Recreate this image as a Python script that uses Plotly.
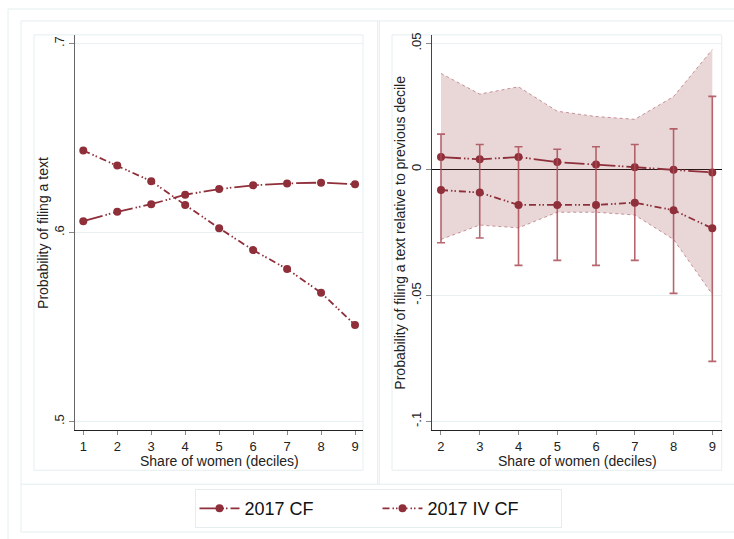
import plotly.graph_objects as go

# ---- data ----
deciles_left = [1, 2, 3, 4, 5, 6, 7, 8, 9]
cf_left = [0.606, 0.611, 0.615, 0.620, 0.623, 0.625, 0.626, 0.6264, 0.6255]
ivcf_left = [0.6434, 0.6355, 0.6272, 0.6146, 0.6023, 0.5907, 0.5807, 0.5682, 0.5511]

deciles_right = [2, 3, 4, 5, 6, 7, 8, 9]
cf_right = [0.0049, 0.0040, 0.0049, 0.0029, 0.0019, 0.0009, -0.0001, -0.0012]
cf_ci_upper = [0.0381, 0.0299, 0.0328, 0.0231, 0.0210, 0.0199, 0.0289, 0.0476]
cf_ci_lower = [-0.0278, -0.0221, -0.0232, -0.0170, -0.0170, -0.0181, -0.0278, -0.0496]
ivcf_right = [-0.0082, -0.0092, -0.0141, -0.0141, -0.0141, -0.0132, -0.0162, -0.0234]
ivcf_ci_upper = [0.0140, 0.0099, 0.0090, 0.0080, 0.0090, 0.0099, 0.0161, 0.0290]
ivcf_ci_lower = [-0.0291, -0.0272, -0.0381, -0.0361, -0.0381, -0.0361, -0.0492, -0.0762]

left_yticks = [0.5, 0.6, 0.7]
left_yticktext = [".5", ".6", ".7"]
right_yticks = [-0.1, -0.05, 0, 0.05]
right_yticktext = ["-.1", "-.05", "0", ".05"]

series_names = ["2017 CF", "2017 IV CF"]

# ---- styles ----
W, H = 734, 539
MAROON = "#8f2f3a"
DASH_CF = "20px,3px,1.5px,2px,1.5px,3px"
DASH_IV = "7px,3px,1.5px,2px,1.5px,3px"
FRAME = "#e4eeef"
GRID = "#e8f0f1"
FONT = "Liberation Sans, Arial, sans-serif"

def px(x):
    return x / W

def py(y):
    return 1 - y / H

fig = go.Figure()

# Left panel
fig.add_trace(go.Scatter(
    x=deciles_left, y=cf_left, mode="lines+markers", name=series_names[0],
    line=dict(color=MAROON, width=1.8, dash=DASH_CF),
    marker=dict(color=MAROON, size=8), xaxis="x", yaxis="y", legendgroup="cf"))
fig.add_trace(go.Scatter(
    x=deciles_left, y=ivcf_left, mode="lines+markers", name=series_names[1],
    line=dict(color=MAROON, width=1.8, dash=DASH_IV),
    marker=dict(color=MAROON, size=8), xaxis="x", yaxis="y", legendgroup="iv"))

# Right panel: CI band for CF
fig.add_trace(go.Scatter(
    x=deciles_right, y=cf_ci_lower, mode="lines", showlegend=False,
    line=dict(color="rgba(160,70,80,0.55)", width=1, dash="dot"),
    xaxis="x2", yaxis="y2", hoverinfo="skip"))
fig.add_trace(go.Scatter(
    x=deciles_right, y=cf_ci_upper, mode="lines", showlegend=False,
    line=dict(color="rgba(160,70,80,0.55)", width=1, dash="dot"),
    fill="tonexty", fillcolor="rgba(144,53,59,0.2)",
    xaxis="x2", yaxis="y2", hoverinfo="skip"))

fig.add_trace(go.Scatter(
    x=deciles_right, y=cf_right, mode="lines+markers", showlegend=False,
    line=dict(color=MAROON, width=1.8, dash=DASH_CF),
    marker=dict(color=MAROON, size=8), xaxis="x2", yaxis="y2", legendgroup="cf"))
fig.add_trace(go.Scatter(
    x=deciles_right, y=ivcf_right, mode="lines+markers", showlegend=False,
    line=dict(color=MAROON, width=1.8, dash=DASH_IV),
    marker=dict(color=MAROON, size=8),
    error_y=dict(type="data", symmetric=False,
                 array=[u - v for u, v in zip(ivcf_ci_upper, ivcf_right)],
                 arrayminus=[v - l for v, l in zip(ivcf_right, ivcf_ci_lower)],
                 color="rgba(170,75,85,0.85)", thickness=1.6, width=4),
    xaxis="x2", yaxis="y2", legendgroup="iv"))

axis_common = dict(
    ticks="outside", tickcolor="#888", showline=True, linewidth=1,
    tickfont=dict(family=FONT, size=13, color="#222"), fixedrange=True,
)

fig.update_layout(
    width=W, height=H,
    margin=dict(l=0, r=0, t=0, b=0),
    paper_bgcolor="white", plot_bgcolor="white",
    font=dict(family=FONT, size=14, color="#222"),
    xaxis=dict(domain=[px(75), px(363)], range=[0.756, 9.235],
               tickvals=deciles_left, ticklen=4, linecolor="#222",
               showgrid=False, zeroline=False, anchor="y", **axis_common),
    yaxis=dict(domain=[py(430), py(33)], range=[0.4953, 0.7046],
               tickvals=left_yticks, ticktext=left_yticktext, tickangle=-90,
               ticklen=5, linecolor="#666", showgrid=True, gridcolor=GRID,
               zeroline=False, anchor="x", **axis_common),
    xaxis2=dict(domain=[px(432.3), px(721.7)], range=[1.776, 9.242],
                tickvals=deciles_right, ticklen=4, linecolor="#222",
                showgrid=False, zeroline=False, anchor="y2", **axis_common),
    yaxis2=dict(domain=[py(430), py(33)], range=[-0.1036, 0.0534],
                tickvals=right_yticks, ticktext=right_yticktext, tickangle=-90,
                ticklen=5, linecolor="#444", showgrid=True, gridcolor=GRID,
                zeroline=True, zerolinecolor="#111", zerolinewidth=1,
                anchor="x2", **axis_common),
    legend=dict(orientation="h", x=px(378), xanchor="center", y=py(508.5),
                yanchor="middle", bordercolor=FRAME, borderwidth=1,
                bgcolor="white", font=dict(family=FONT, size=18, color="#111"),
                entrywidth=128, entrywidthmode="pixels", itemwidth=40),
    showlegend=True,
)

# axis titles
ann = [
    dict(text="Share of women (deciles)", x=px(219), y=py(461)),
    dict(text="Share of women (deciles)", x=px(577), y=py(461)),
    dict(text="Probability of filing a text", x=px(42.3), y=py(231.5), textangle=-90),
    dict(text="Probability of filing a text relative to previous decile",
         x=px(400), y=py(231.5), textangle=-90),
]
for a in ann:
    fig.add_annotation(xref="paper", yref="paper", showarrow=False,
                       xanchor="center", yanchor="middle",
                       font=dict(family=FONT, size=14, color="#222"), **a)

# frames
shapes = [
    dict(type="rect", x0=px(8), y0=py(7), x1=px(760), y1=py(560)),
    dict(type="rect", x0=px(21), y0=py(19), x1=px(760), y1=py(532)),
    dict(type="line", x0=px(21), y0=py(484), x1=px(760), y1=py(484)),
    dict(type="line", x0=px(377.7), y0=py(19), x1=px(377.7), y1=py(484)),
    dict(type="line", x0=px(379.3), y0=py(19), x1=px(379.3), y1=py(484)),
    dict(type="rect", x0=px(34), y0=py(33), x1=px(363), y1=py(470)),
    dict(type="rect", x0=px(392), y0=py(33), x1=px(721.7), y1=py(470)),
]
for s in shapes:
    fig.add_shape(xref="paper", yref="paper", layer="below",
                  line=dict(color=FRAME, width=1), **s)

fig.write_html(
    "out.html",
    config={"displayModeBar": False, "staticPlot": True},
    post_script="document.body.style.margin='0';document.body.style.overflow='hidden';",
)
